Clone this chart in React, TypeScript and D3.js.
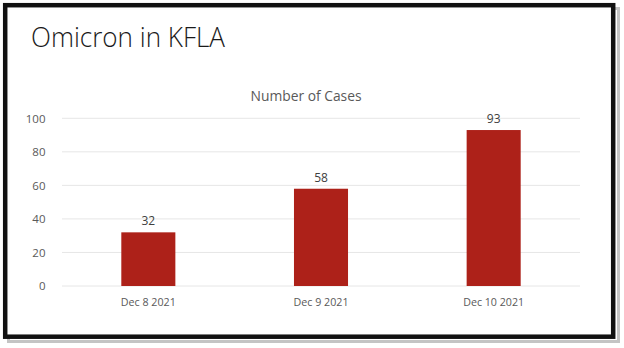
import React from "react";
import * as d3 from "d3";

const categories = ["Dec 8 2021", "Dec 9 2021", "Dec 10 2021"];
const cases = [32, 58, 93];
const yTicks = [0, 20, 40, 60, 80, 100];
const slideTitle = "Omicron in KFLA";
const chartTitle = "Number of Cases";

const W = 624;
const H = 348;
const FONT = "'Open Sans', 'Liberation Sans', sans-serif";

export default function App() {
  const x = d3
    .scaleBand<string>()
    .domain(categories)
    .range([62, 580])
    .paddingInner(0.687)
    .paddingOuter(0.687 / 2);
  const y = d3.scaleLinear().domain([0, 100]).range([286, 118.3]);

  return (
    <svg
      width={W}
      height={H}
      viewBox={`0 0 ${W} ${H}`}
      style={{ position: "fixed", left: 0, top: 0, background: "#fff" }}
    >
      <rect x={0} y={0} width={W} height={H} fill="#fff" />
      {/* shadow */}
      <rect x={8.5} y={8.5} width={610} height={333} fill="none" stroke="#c4c4c4" strokeWidth={3} />
      {/* frame */}
      <rect x={5.2} y={5.2} width={608} height={331.5} fill="#fff" stroke="#111" strokeWidth={4.5} />

      <text
        x={31}
        y={46.5}
        fontFamily={FONT}
        fontWeight={300}
        fontSize={28}
        fill="#1a1a1a"
        textLength={194}
        lengthAdjust="spacingAndGlyphs"
      >
        {slideTitle}
      </text>

      <text
        x={306}
        y={101}
        textAnchor="middle"
        fontFamily={FONT}
        fontSize={14}
        fill="#595959"
        textLength={111}
        lengthAdjust="spacingAndGlyphs"
      >
        {chartTitle}
      </text>

      {yTicks.map((t) => (
        <g key={t}>
          <line x1={62} x2={580} y1={y(t)} y2={y(t)} stroke="#e6e6e6" strokeWidth={1} />
          <text
            x={45.5}
            y={y(t) + 4.3}
            textAnchor="end"
            fontFamily={FONT}
            fontSize={11.5}
            fill="#595959"
          >
            {t}
          </text>
        </g>
      ))}

      {categories.map((c, i) => {
        const bx = x(c)!;
        const bw = x.bandwidth();
        const cx = bx + bw / 2;
        return (
          <g key={c}>
            <rect x={bx} y={y(cases[i])} width={bw} height={y(0) - y(cases[i])} fill="#ad2119" />
            <text
              x={cx}
              y={y(cases[i]) - 7}
              textAnchor="middle"
              fontFamily={FONT}
              fontSize={12}
              fill="#404040"
            >
              {cases[i]}
            </text>
            <text
              x={cx}
              y={306}
              textAnchor="middle"
              fontFamily={FONT}
              fontSize={11.5}
              fill="#595959"
              textLength={c.length > 10 ? 61 : 55}
              lengthAdjust="spacingAndGlyphs"
            >
              {c}
            </text>
          </g>
        );
      })}
    </svg>
  );
}
